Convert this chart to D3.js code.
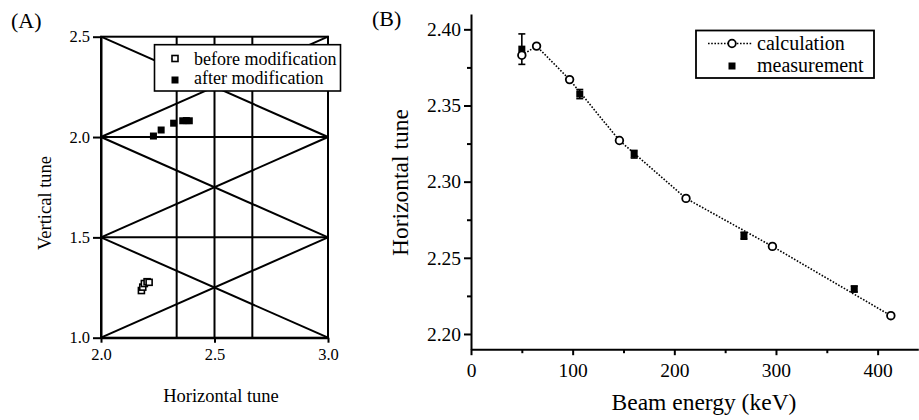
<!DOCTYPE html>
<html>
<head>
<meta charset="utf-8">
<script src="https://cdn.jsdelivr.net/npm/d3@7"></script>
<style>
  body { margin: 0; background: #fff; }
  svg { display: block; }
  text { font-family: "Liberation Serif", "Times New Roman", serif; fill: #000; }
</style>
</head>
<body>
<svg id="fig" width="919" height="420"></svg>
<script>
// ---------- Panel A: working points on the tune diagram ----------
const tuneTicksX = [2.0, 2.5, 3.0];
const tuneTicksY = [1.0, 1.5, 2.0, 2.5];
const beforeQx = [2.178, 2.184, 2.191, 2.203, 2.212];
const beforeQy = [1.235, 1.252, 1.270, 1.279, 1.276];
const afterQx  = [2.231, 2.265, 2.320, 2.360, 2.376, 2.389];
const afterQy  = [2.005, 2.035, 2.069, 2.081, 2.082, 2.081];
// resonance lines inside the cell 2 < Qx < 3, 1 < Qy < 2.5
const thirdOrderQx = [7, 8];      // 3·Qx = n
const halfIntegerQx = [5];        // 2·Qx = n
const halfIntegerQy = [3, 4];     // 2·Qy = n
const sumResonance = [5, 6, 7];   // Qx + 2·Qy = n
const diffResonance = [-2, -1, 0];// Qx − 2·Qy = n
const legendA = ["before modification", "after modification"];

// ---------- Panel B: horizontal tune vs beam energy ----------
const calcEnergy = [50, 64.5, 97, 146, 211.5, 296.5, 413];
const calcTune   = [2.383, 2.389, 2.367, 2.327, 2.289, 2.2575, 2.212];
const measEnergy = [50, 107, 160.5, 268.5, 377];
const measTune   = [2.387, 2.3575, 2.318, 2.2645, 2.2295];
const measErr    = [0.010, 0.003, 0.0025, 0.0023, 0.002];
const energyTicks = [0, 100, 200, 300, 400];
const energyMinor = [50, 150, 250, 350];
const hTuneTicks = [2.20, 2.25, 2.30, 2.35, 2.40];
const hTuneMinor = [2.225, 2.275, 2.325, 2.375];
const legendB = ["calculation", "measurement"];

const svg = d3.select("#fig");
const ink = "#000";

// ===== Panel A =====
const xA = d3.scaleLinear().domain([2, 3]).range([101, 328]);
const yA = d3.scaleLinear().domain([1, 2.5]).range([337.7, 36.7]);
const gA = svg.append("g");

const linesA = [];
thirdOrderQx.forEach(n => linesA.push([n / 3, 1, n / 3, 2.5]));
halfIntegerQx.forEach(n => linesA.push([n / 2, 1, n / 2, 2.5]));
halfIntegerQy.forEach(n => linesA.push([2, n / 2, 3, n / 2]));
sumResonance.forEach(n => linesA.push([2, (n - 2) / 2, 3, (n - 3) / 2]));
diffResonance.forEach(n => linesA.push([2, (2 - n) / 2, 3, (3 - n) / 2]));

gA.selectAll("line.res").data(linesA).join("line")
  .attr("class", "res")
  .attr("x1", d => xA(d[0])).attr("y1", d => yA(d[1]))
  .attr("x2", d => xA(d[2])).attr("y2", d => yA(d[3]))
  .attr("stroke", ink).attr("stroke-width", 2);

// frame
gA.append("rect")
  .attr("x", xA(2)).attr("y", yA(2.5))
  .attr("width", xA(3) - xA(2)).attr("height", yA(1) - yA(2.5))
  .attr("fill", "none").attr("stroke", ink).attr("stroke-width", 2);

const axA_x = gA.append("g").attr("transform", `translate(0,${yA(1)})`)
  .call(d3.axisBottom(xA).tickValues(tuneTicksX).tickFormat(d3.format(".1f"))
        .tickSize(5).tickPadding(6).tickSizeOuter(0));
const axA_y = gA.append("g").attr("transform", `translate(${xA(2)},0)`)
  .call(d3.axisLeft(yA).tickValues(tuneTicksY).tickFormat(d3.format(".1f"))
        .tickSize(8).tickPadding(3).tickSizeOuter(0));
[axA_x, axA_y].forEach(a => {
  a.select(".domain").attr("stroke", ink).attr("stroke-width", 2);
  a.selectAll(".tick line").attr("stroke", ink).attr("stroke-width", 2);
  a.selectAll(".tick text").style("font-family", '"Liberation Serif", serif')
    .style("font-size", "16.5px").attr("fill", ink);
});

// data points
const sq = 6;
gA.selectAll("rect.before").data(d3.range(beforeQx.length)).join("rect")
  .attr("class", "before")
  .attr("x", i => xA(beforeQx[i]) - sq / 2).attr("y", i => yA(beforeQy[i]) - sq / 2)
  .attr("width", sq).attr("height", sq)
  .attr("fill", "#fff").attr("stroke", ink).attr("stroke-width", 1.6);
gA.selectAll("rect.after").data(d3.range(afterQx.length)).join("rect")
  .attr("class", "after")
  .attr("x", i => xA(afterQx[i]) - 3.5).attr("y", i => yA(afterQy[i]) - 3.5)
  .attr("width", 7).attr("height", 7).attr("fill", ink);

// legend A
const lgA = gA.append("g");
lgA.append("rect").attr("x", 154.5).attr("y", 44.7).attr("width", 186).attr("height", 46.3)
  .attr("fill", "#fff").attr("stroke", ink).attr("stroke-width", 1.6);
lgA.append("rect").attr("x", 175 - 3).attr("y", 58.5 - 3).attr("width", 6).attr("height", 6)
  .attr("fill", "#fff").attr("stroke", ink).attr("stroke-width", 1.6);
lgA.append("rect").attr("x", 175 - 3.5).attr("y", 80 - 3.5).attr("width", 7).attr("height", 7)
  .attr("fill", ink);
lgA.selectAll("text").data(legendA).join("text")
  .attr("x", 194).attr("y", (d, i) => i === 0 ? 65.3 : 84)
  .style("font-size", "18px").text(d => d);

// titles A
gA.append("text").attr("x", 221).attr("y", 401.5).attr("text-anchor", "middle")
  .style("font-size", "18.5px").text("Horizontal tune");
gA.append("text").attr("transform", "translate(51,203) rotate(-90)").attr("text-anchor", "middle")
  .style("font-size", "18.5px").text("Vertical tune");
gA.append("text").attr("x", 11).attr("y", 28).style("font-size", "22px").text("(A)");

// ===== Panel B =====
const xB = d3.scaleLinear().domain([0, 440]).range([471, 918.3]);
const yB = d3.scaleLinear().domain([2.19, 2.41]).range([349.2, 14.1]);
const gB = svg.append("g");

// minor ticks
gB.append("g").attr("transform", `translate(0,${yB(2.19)})`)
  .call(d3.axisBottom(xB).tickValues(energyMinor).tickFormat("").tickSize(4).tickSizeOuter(0))
  .call(a => a.select(".domain").remove())
  .selectAll("line").attr("stroke", ink).attr("stroke-width", 2);
gB.append("g").attr("transform", `translate(${xB(0)},0)`)
  .call(d3.axisLeft(yB).tickValues(hTuneMinor).tickFormat("").tickSize(4).tickSizeOuter(0))
  .call(a => a.select(".domain").remove())
  .selectAll("line").attr("stroke", ink).attr("stroke-width", 2);

const axB_x = gB.append("g").attr("transform", `translate(0,${yB(2.19)})`)
  .call(d3.axisBottom(xB).tickValues(energyTicks).tickFormat(d3.format("d"))
        .tickSize(6).tickPadding(8).tickSizeOuter(0));
const axB_y = gB.append("g").attr("transform", `translate(${xB(0)},0)`)
  .call(d3.axisLeft(yB).tickValues(hTuneTicks).tickFormat(d3.format(".2f"))
        .tickSize(7).tickPadding(3).tickSizeOuter(0));
[axB_x, axB_y].forEach(a => {
  a.select(".domain").attr("stroke", ink).attr("stroke-width", 2);
  a.selectAll(".tick line").attr("stroke", ink).attr("stroke-width", 2);
  a.selectAll(".tick text").style("font-family", '"Liberation Serif", serif')
    .style("font-size", "19.5px").attr("fill", ink);
});

// calculation curve
const calcPts = calcEnergy.map((e, i) => [xB(e), yB(calcTune[i])]);
gB.append("path").attr("d", d3.line()(calcPts))
  .attr("fill", "none").attr("stroke", ink).attr("stroke-width", 1.6)
  .attr("stroke-dasharray", "1.6,1.6");

// measurement with error bars
const capW = 3.5;
const mg = gB.selectAll("g.meas").data(d3.range(measEnergy.length)).join("g").attr("class", "meas");
mg.append("line")
  .attr("x1", i => xB(measEnergy[i])).attr("x2", i => xB(measEnergy[i]))
  .attr("y1", i => yB(measTune[i] + measErr[i])).attr("y2", i => yB(measTune[i] - measErr[i]))
  .attr("stroke", ink).attr("stroke-width", 1.6);
[1, -1].forEach(s => {
  mg.append("line")
    .attr("x1", i => xB(measEnergy[i]) - capW).attr("x2", i => xB(measEnergy[i]) + capW)
    .attr("y1", i => yB(measTune[i] + s * measErr[i])).attr("y2", i => yB(measTune[i] + s * measErr[i]))
    .attr("stroke", ink).attr("stroke-width", 1.6);
});
mg.append("rect")
  .attr("x", i => xB(measEnergy[i]) - 3.5).attr("y", i => yB(measTune[i]) - 3.5)
  .attr("width", 7).attr("height", 7).attr("fill", ink);

// calculation markers on top
gB.selectAll("circle.calc").data(calcPts).join("circle").attr("class", "calc")
  .attr("cx", d => d[0]).attr("cy", d => d[1]).attr("r", 3.8)
  .attr("fill", "#fff").attr("stroke", ink).attr("stroke-width", 1.8);

// legend B
const lgB = gB.append("g");
lgB.append("rect").attr("x", 696).attr("y", 30.5).attr("width", 178).attr("height", 47.5)
  .attr("fill", "#fff").attr("stroke", ink).attr("stroke-width", 1.8);
lgB.append("line").attr("x1", 708).attr("x2", 752).attr("y1", 43.5).attr("y2", 43.5)
  .attr("stroke", ink).attr("stroke-width", 1.6).attr("stroke-dasharray", "1.6,1.6");
lgB.append("circle").attr("cx", 732).attr("cy", 43.5).attr("r", 3.8)
  .attr("fill", "#fff").attr("stroke", ink).attr("stroke-width", 1.8);
lgB.append("rect").attr("x", 732 - 3.5).attr("y", 66 - 3.5).attr("width", 7).attr("height", 7)
  .attr("fill", ink);
lgB.selectAll("text").data(legendB).join("text")
  .attr("x", 757).attr("y", (d, i) => i === 0 ? 49.5 : 71.5)
  .style("font-size", "20px").text(d => d);

// titles B
gB.append("text").attr("x", 704).attr("y", 410).attr("text-anchor", "middle")
  .style("font-size", "23.5px").text("Beam energy (keV)");
gB.append("text").attr("transform", "translate(408,182.5) rotate(-90)").attr("text-anchor", "middle")
  .style("font-size", "23.5px").text("Horizontal tune");
gB.append("text").attr("x", 372).attr("y", 26).style("font-size", "22px").text("(B)");
</script>
</body>
</html>
